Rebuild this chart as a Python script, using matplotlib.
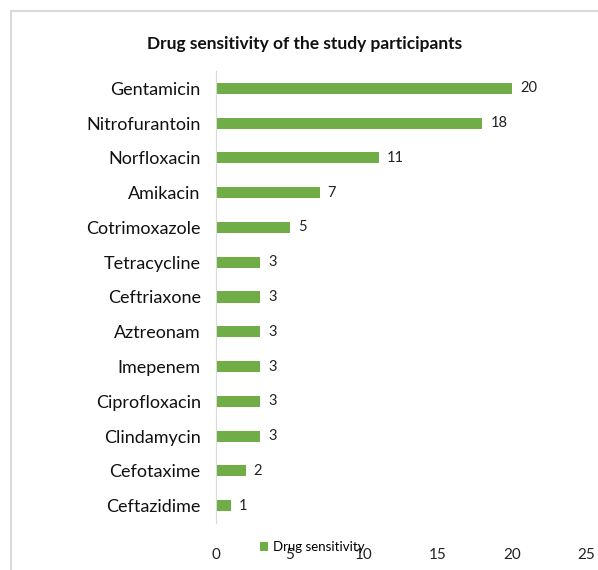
import matplotlib.pyplot as plt
from matplotlib.patches import Rectangle

drugs = ['Gentamicin', 'Nitrofurantoin', 'Norfloxacin', 'Amikacin', 'Cotrimoxazole',
         'Tetracycline', 'Ceftriaxone', 'Aztreonam', 'Imepenem', 'Ciprofloxacin',
         'Clindamycin', 'Cefotaxime', 'Ceftazidime']
sensitivity = [20, 18, 11, 7, 5, 3, 3, 3, 3, 3, 3, 2, 1]
x_ticks = [0, 5, 10, 15, 20, 25]

plt.rcParams['font.family'] = ['Lato', 'DejaVu Sans']

green = '#70AD47'
fig = plt.figure(figsize=(5.98, 5.70), dpi=100)
ax = fig.add_axes([216 / 598, 1 - 523 / 570, 370 / 598, 452 / 570])

pos = list(range(len(drugs)))[::-1]
ax.barh(pos, sensitivity, height=0.32, color=green, label='Drug sensitivity')
for p, v in zip(pos, sensitivity):
    ax.text(v + 0.55, p, str(v), va='center', ha='left', fontsize=10.5, color='#222222')

ax.set_xlim(0, 25)
ax.set_ylim(-0.5, len(drugs) - 0.5)
ax.set_yticks(pos)
ax.set_yticklabels(drugs, fontsize=13, color='#111111')
ax.set_xticks(x_ticks)
ax.set_xticklabels([str(t) for t in x_ticks], fontsize=11, color='#222222')
ax.tick_params(length=0)
ax.tick_params(axis='x', pad=18)
ax.tick_params(axis='y', pad=11)
for side in ['top', 'right', 'bottom']:
    ax.spines[side].set_visible(False)
ax.spines['left'].set_color('#d9d9d9')

fig.text(0.51, 1 - 44 / 570, 'Drug sensitivity of the study participants',
         ha='center', va='center', fontsize=12.5, fontweight='bold', color='#111111')

# legend sits on top of the tick labels
fig.legend(loc='center left', bbox_to_anchor=(260 / 598, 1 - 547 / 570), frameon=False,
           fontsize=9.5, handlelength=0.6, handleheight=0.6, handletextpad=0.35,
           borderpad=0, borderaxespad=0)

fig.patches.append(Rectangle((11 / 598, -0.1), 1.2, 1 - 11 / 570 + 0.1, transform=fig.transFigure,
                             fill=False, edgecolor='#d9d9d9', linewidth=1.5))

fig.savefig('out.png', dpi=100)
